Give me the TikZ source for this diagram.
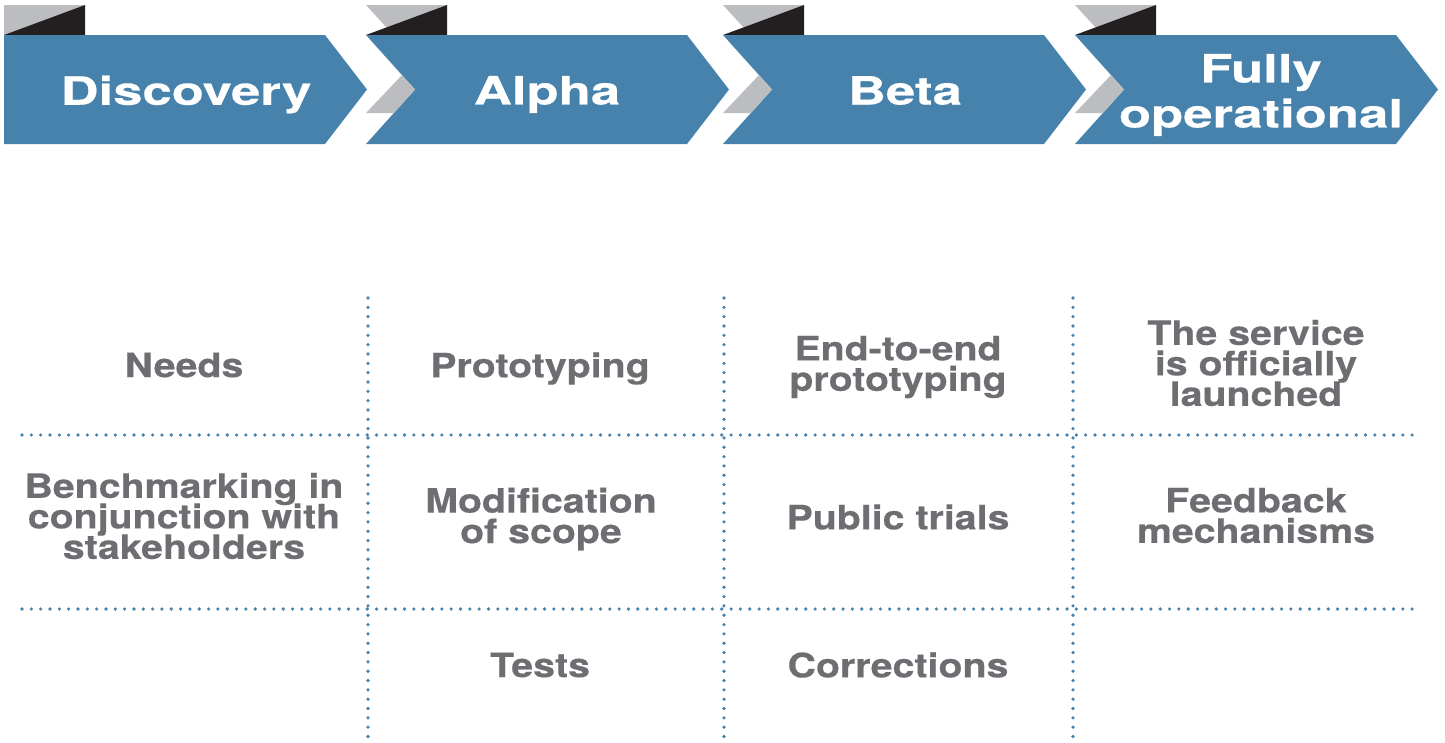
\documentclass[tikz,border=0pt]{standalone}
\usepackage{fontspec}
\newfontfamily\titlefont{texgyreheros}[Extension=.otf, UprightFont=*-bold, FakeStretch=1.35, FakeBold=0.4]
\newfontfamily\cellfont{texgyreheros}[Extension=.otf, UprightFont=*-bold, FakeStretch=1.17, FakeBold=0.4]
\definecolor{chevblue}{HTML}{4682AC}
\definecolor{tabgray}{HTML}{BCBDC0}
\definecolor{tabblack}{HTML}{231F20}
\definecolor{textgray}{HTML}{6D6E71}
\setlength{\lineskiplimit}{-20pt}

\begin{document}
\begin{tikzpicture}[x=1pt, y=-1pt,
  title/.style={inner sep=0pt, align=center, text=white, font=\titlefont\fontsize{39}{45}\selectfont},
  cell/.style={inner sep=0pt, align=center, text=textgray, font=\cellfont\fontsize{33.6}{30.5}\selectfont},
  dotline/.style={draw=chevblue, line width=3.6pt, line cap=round, dash pattern=on 0pt off 9.33pt}]

\useasboundingbox (0,0) rectangle (1445,742);

% tabs on top of the chevrons
\fill[tabgray] (4,5) -- (85,5) -- (4,35) -- cycle;
\fill[tabblack] (4,35) -- (85,35) -- (85,5) -- cycle;
\fill[tabgray] (366,5) -- (447,5) -- (386.5,27.5) -- cycle;
\fill[tabblack] (366,35) -- (447,35) -- (447,5) -- cycle;
\fill[tabgray] (723,5) -- (804,5) -- (743.5,27.5) -- cycle;
\fill[tabblack] (723,35) -- (804,35) -- (804,5) -- cycle;
\fill[tabgray] (1075,5) -- (1156,5) -- (1095.5,27.5) -- cycle;
\fill[tabblack] (1075,35) -- (1156,35) -- (1156,5) -- cycle;

% chevrons
\fill[chevblue] (4,35) -- (325,35) -- (367,89.5) -- (325,144) -- (4,144) -- cycle;
\fill[chevblue] (366,35) -- (687,35) -- (729,89.5) -- (687,144) -- (366,144) -- (415,89.5) -- cycle;
\fill[chevblue] (723,35) -- (1044,35) -- (1086,89.5) -- (1044,144) -- (723,144) -- (772,89.5) -- cycle;
\fill[chevblue] (1075,35) -- (1396,35) -- (1438,89.5) -- (1396,144) -- (1075,144) -- (1124,89.5) -- cycle;

% gray folds in the notches
\fill[tabgray] (366,113) -- (402,75) -- (415,89.5) -- (394,113) -- cycle;
\fill[tabgray] (723,113) -- (759,75) -- (772,89.5) -- (751,113) -- cycle;
\fill[tabgray] (1075,113) -- (1111,75) -- (1124,89.5) -- (1103,113) -- cycle;

\node (discovery)[title] at (186, 94.5) {Discovery};
\node (alpha)[title] at (547, 94.5) {Alpha};
\node (beta)[title] at (905, 90.5) {Beta};
\node (fully)[title] at (1261, 95) {Fully\\operational};

% grid
\draw[dotline] (368,298) -- (368,742);
\draw[dotline] (724,298) -- (724,742);
\draw[dotline] (1073,298) -- (1073,742);
\draw[dotline] (22,435) -- (1418,435);
\draw[dotline] (22,609) -- (1418,609);

\node (needs)[cell] at (184, 365) {Needs};
\node (proto)[cell] at (540, 368.5) {Prototyping};
\node (endtoend)[cell] at (898, 367) {End-to-end\\prototyping};
\node (launch)[cell] at (1256, 363) {The service\\is officially\\launched};

\node (bench)[cell] at (184, 516) {Benchmarking in\\conjunction with\\stakeholders};
\node (scope)[cell] at (541, 519) {Modification\\of scope};
\node (trials)[cell] at (898, 517) {Public trials};
\node (feedback)[cell] at (1256, 515.5) {Feedback\\mechanisms};

\node (tests)[cell] at (540, 665) {Tests};
\node (corr)[cell] at (898, 665) {Corrections};

\end{tikzpicture}
\end{document}
